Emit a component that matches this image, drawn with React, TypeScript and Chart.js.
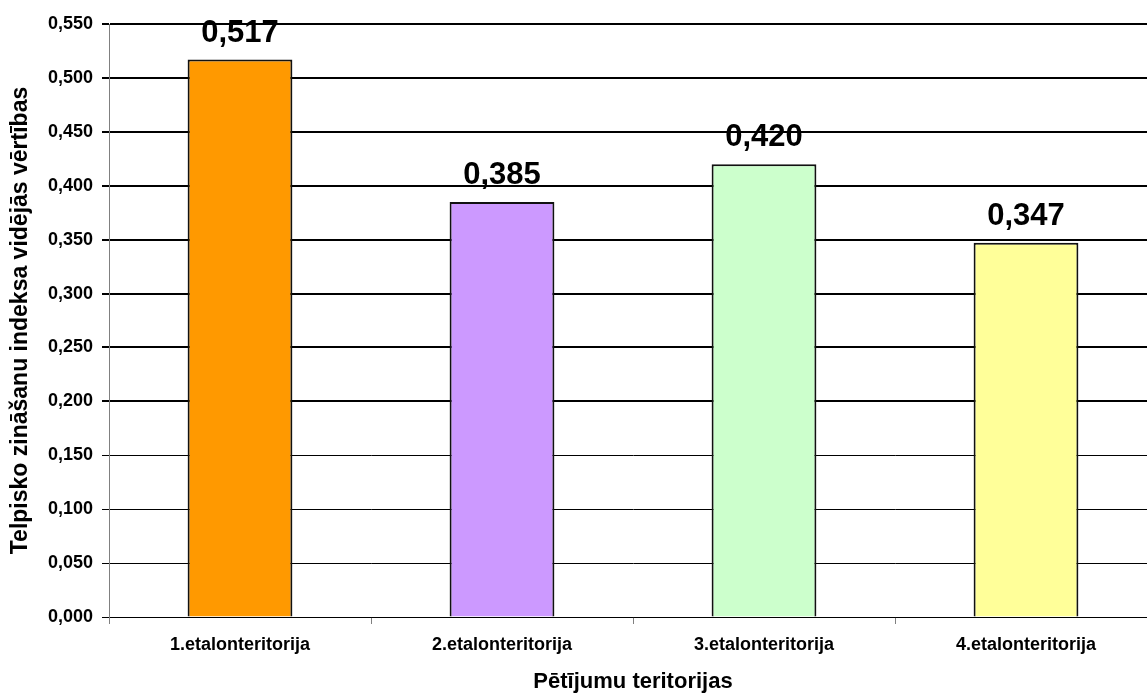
import React, { useEffect, useRef } from "react";
import { Chart, registerables } from "chart.js";

Chart.register(...registerables);

const categories = [
  "1.etalonteritorija",
  "2.etalonteritorija",
  "3.etalonteritorija",
  "4.etalonteritorija",
];
const values = [0.517, 0.385, 0.42, 0.347];
const barColors = ["#FF9900", "#CC99FF", "#CCFFCC", "#FFFF99"];
const yTitle = "Telpisko zināšanu indeksa vidējās vērtības";
const xTitle = "Pētījumu teritorijas";

const FONT = '"Liberation Sans", Arial, sans-serif';
const fmt = (v: number) => v.toFixed(3).replace(".", ",");

const valueLabels = {
  id: "valueLabels",
  afterDatasetsDraw(chart: any) {
    const ctx = chart.ctx;
    const meta = chart.getDatasetMeta(0);
    ctx.save();
    ctx.font = `bold 31px ${FONT}`;
    ctx.fillStyle = "#000";
    ctx.textAlign = "center";
    ctx.textBaseline = "alphabetic";
    meta.data.forEach((el: any, i: number) => {
      ctx.fillText(fmt(values[i]), el.x, el.y - 18);
    });
    ctx.restore();
  },
};

export default function App() {
  const ref = useRef<HTMLCanvasElement>(null);
  useEffect(() => {
    document.body.style.overflow = "hidden";
    Chart.defaults.font.family = FONT;
    const chart = new Chart(ref.current!, {
      type: "bar",
      data: {
        labels: categories,
        datasets: [
          {
            data: values,
            backgroundColor: barColors,
            borderColor: "#111",
            borderWidth: 2,
            barPercentage: 0.4,
            categoryPercentage: 1,
          },
        ],
      },
      options: {
        animation: false,
        responsive: false,
        devicePixelRatio: 1,
        layout: { padding: { top: 24, right: 0, bottom: 0, left: 0 } },
        plugins: { legend: { display: false }, tooltip: { enabled: false } },
        scales: {
          x: {
            offset: true,
            grid: {
              offset: true,
              drawOnChartArea: false,
              drawTicks: true,
              tickLength: 7,
              color: "#808080",
            },
            border: { color: "#000", width: 1 },
            ticks: {
              color: "#000",
              font: { size: 18, weight: "bold" },
              padding: 10,
              maxRotation: 0,
            },
            title: {
              display: true,
              text: xTitle,
              color: "#000",
              font: { size: 22, weight: "bold", lineHeight: 1 },
              padding: { top: 0, bottom: 0 },
            },
            afterFit: (s: any) => {
              s.height = 76;
            },
          },
          y: {
            min: 0,
            max: 0.55,
            ticks: {
              stepSize: 0.05,
              color: "#000",
              font: { size: 18, weight: "bold" },
              padding: 9,
              callback: (v: any) => fmt(Number(v)),
            },
            grid: {
              color: "#000",
              tickLength: 7,
              lineWidth: (c: any) => (c.tick && c.tick.value >= 0.199 ? 2 : 1),
            },
            border: { color: "#808080", width: 1 },
            title: {
              display: true,
              text: yTitle,
              color: "#000",
              font: { size: 23, weight: "bold", lineHeight: 1 },
              padding: { top: 9, bottom: 0 },
            },
            afterFit: (s: any) => {
              s.width = 109;
            },
          },
        },
      },
      plugins: [valueLabels],
    });
    return () => chart.destroy();
  }, []);
  return (
    <div style={{ position: "fixed", left: 0, top: 0, width: 1160, height: 693, background: "#fff" }}>
      <canvas ref={ref} width={1157} height={693} style={{ display: "block" }} />
    </div>
  );
}
